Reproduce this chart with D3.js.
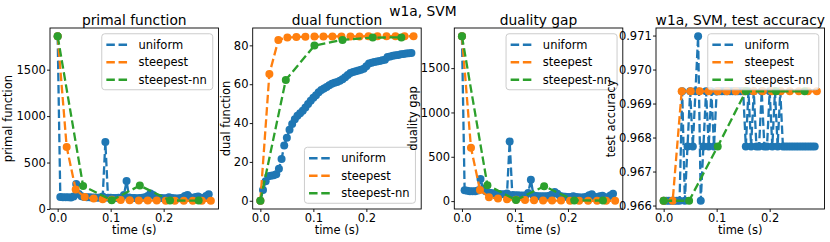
<!DOCTYPE html>
<html><head><meta charset="utf-8">
<script src="https://cdn.jsdelivr.net/npm/d3@7"></script>
<style>
body{margin:0;background:#fff}
svg{display:block}
text{font-family:"DejaVu Sans",sans-serif;fill:#000}
</style>
</head><body><svg id="c" width="830" height="242"></svg>
<script>
// ---------------- data ----------------
const seriesNames = ["uniform", "steepest", "steepest-nn"];
const seriesColors = ["#1f77b4", "#ff7f0e", "#2ca02c"];

const uniformTime = [0.000,0.005,0.010,0.015,0.020,0.025,0.030,0.035,0.040,0.045,
  0.050,0.055,0.060,0.065,0.070,0.075,0.080,0.085,0.090,0.095,
  0.100,0.105,0.110,0.115,0.120,0.125,0.130,0.135,0.140,0.145,
  0.150,0.155,0.160,0.165,0.170,0.175,0.180,0.185,0.190,0.195,
  0.200,0.205,0.210,0.215,0.220,0.225,0.230,0.235,0.240,0.245,
  0.250,0.255,0.260,0.265,0.270,0.275,0.280,0.285];
const uniformPrimal = [1860,128,126,125,125,124,135,268,160,138,
  130,127,125,124,123,122,124,135,722,121,
  120,119,118,120,122,150,300,123,118,117,
  116,118,120,125,140,168,150,125,120,117,
  115,116,125,118,115,114,116,122,140,150,
  125,118,130,135,120,118,140,158];
const uniformDual = [0,5.5,10,12.6,12.9,13.2,13.6,16.5,21.5,28.5,
  32.5,36.5,39.5,42,43.8,45,46.3,48,49.8,51.5,
  53,54.3,55.8,57,57.8,58.6,59.5,60.2,60.8,61.2,
  61.8,62.6,63.6,64.8,65.8,66.3,66.7,67.0,67.5,68.0,
  69.2,70.6,71.0,71.4,71.7,72.0,72.3,72.6,74.0,74.3,
  74.6,74.9,75.1,75.4,75.6,75.8,76.0,76.1];
const uniformGap = [1860,122,116,112,112,111,121,250,138,110,
  98,91,86,82,79,77,78,87,672,70,
  67,65,62,63,64,91,240,63,57,56,
  54,55,56,60,74,102,83,58,52,49,
  46,45,54,47,43,42,44,49,66,76,
  50,43,55,60,44,42,64,82];
const uniformAcc = [0.96614,0.96614,0.96614,0.96614,0.96614,0.96614,0.96614,0.96936,0.96614,0.96774,
  0.96936,0.96774,0.96936,0.97098,0.96614,0.96774,0.96936,0.96774,0.96936,0.96774,
  0.96936,0.96936,0.96936,0.96936,0.96936,0.96936,0.96936,0.96936,0.96936,0.96936,
  0.96936,0.96774,0.96936,0.96774,0.96936,0.96774,0.96774,0.96936,0.96774,0.96774,
  0.96936,0.96774,0.96936,0.96774,0.96936,0.96774,0.96774,0.96774,0.96774,0.96774,
  0.96774,0.96774,0.96774,0.96774,0.96774,0.96774,0.96774,0.96774];

const steepestTime = [0,0.017,0.034,0.051,0.068,0.085,0.102,0.119,0.136,0.153,
  0.170,0.187,0.204,0.221,0.238,0.255,0.272,0.289];
const steepestPrimal = [1860,668,210,128,112,104,99,96,94,92,91,90,89.5,89,88.8,88.6,88.5,88.4];
const steepestDual = [0,65.3,82.8,84.0,84.3,84.4,84.5,84.5,84.6,84.6,84.6,84.6,84.7,84.7,84.7,84.7,84.7,84.7];
const steepestGap = [1860,603,125,44,28,20,15,12,9.5,8,6.5,5.5,4.8,4.3,4.1,3.9,3.8,3.7];
const steepestAcc = [0.96614,0.96614,0.96936,0.96936,0.96936,0.96936,0.96936,0.96936,0.96936,
  0.96936,0.96936,0.96936,0.96936,0.96936,0.96936,0.96936,0.96936,0.96936];

const nnTime = [0,0.048,0.102,0.155,0.212,0.266];
const nnPrimal = [1860,248,94,252,92,90];
const nnDual = [0,62.2,79.9,82.8,84.0,84.1];
const nnGap = [1860,180,12,168,8,6];
const nnAcc = [0.96614,0.96614,0.96774,0.96936,0.96936,0.96936];

const suptitle = "w1a, SVM";
const panelTitles = ["primal function", "dual function", "duality gap", "w1a, SVM, test accuracy"];
const panelYLabels = ["primal function", "dual function", "duality gap", "test accuracy"];
const xLabel = "time (s)";
const xTicks = [0.0, 0.1, 0.2];
const yTicksPrimal = [0, 500, 1000, 1500];
const yTicksDual = [0, 20, 40, 60, 80];
const yTicksGap = [0, 500, 1000, 1500];
const yTicksAcc = [0.966, 0.967, 0.968, 0.969, 0.970, 0.971];

// ---------------- layout ----------------
const svg = d3.select("#c");
const W = 168.5, TOP = 28, BOT = 209;
const lefts = [50, 252.7, 454.3, 656];
const FS = 11.5, TFS = 13.8;
const LW = 2.3, DASH = "8.5,3.7", R = 4;

const times = [uniformTime, steepestTime, nnTime];
const panels = [
  {ys: [uniformPrimal, steepestPrimal, nnPrimal], ticks: yTicksPrimal, fmt: d3.format("d"), legend: "ur"},
  {ys: [uniformDual, steepestDual, nnDual], ticks: yTicksDual, fmt: d3.format("d"), legend: "lr"},
  {ys: [uniformGap, steepestGap, nnGap], ticks: yTicksGap, fmt: d3.format("d"), legend: "ur"},
  {ys: [uniformAcc, steepestAcc, nnAcc], ticks: yTicksAcc, fmt: d3.format(".3f"), legend: "ur"}
];

svg.append("text").attr("x", 423).attr("y", 16).attr("text-anchor", "middle")
  .attr("font-size", TFS).text(suptitle);

panels.forEach((p, i) => {
  const g = svg.append("g");
  const L = lefts[i], Rr = lefts[i] + W;
  const allT = [].concat(...times);
  const [t0, t1] = d3.extent(allT); const tp = (t1 - t0) * 0.05;
  const x = d3.scaleLinear().domain([t0 - tp, t1 + tp]).range([L, Rr]);
  const allY = [].concat(...p.ys);
  const [y0, y1] = d3.extent(allY); const yp = (y1 - y0) * 0.05;
  const y = d3.scaleLinear().domain([y0 - yp, y1 + yp]).range([BOT, TOP]);

  const clipId = "clip" + i;
  svg.append("clipPath").attr("id", clipId).append("rect")
    .attr("x", L).attr("y", TOP).attr("width", W).attr("height", BOT - TOP);
  const dg = g.append("g").attr("clip-path", `url(#${clipId})`);

  p.ys.forEach((ys, s) => {
    const pts = times[s].map((t, k) => [t, ys[k]]);
    const line = d3.line().x(d => x(d[0])).y(d => y(d[1]));
    dg.append("path").attr("d", line(pts)).attr("fill", "none")
      .attr("stroke", seriesColors[s]).attr("stroke-width", LW)
      .attr("stroke-dasharray", DASH);
    dg.append("g").selectAll("circle").data(pts).join("circle")
      .attr("cx", d => x(d[0])).attr("cy", d => y(d[1])).attr("r", R)
      .attr("fill", seriesColors[s]);
  });

  // frame
  g.append("rect").attr("x", L).attr("y", TOP).attr("width", W).attr("height", BOT - TOP)
    .attr("fill", "none").attr("stroke", "#000").attr("stroke-width", 0.9);

  // axes
  const xa = g.append("g").attr("transform", `translate(0,${BOT})`)
    .call(d3.axisBottom(x).tickValues(xTicks).tickSize(3).tickPadding(1.8).tickFormat(d3.format(".1f")));
  const ya = g.append("g").attr("transform", `translate(${L},0)`)
    .call(d3.axisLeft(y).tickValues(p.ticks).tickSize(3).tickPadding(1.2).tickFormat(p.fmt));
  [xa, ya].forEach(a => {
    a.select(".domain").remove();
    a.attr("font-size", FS).attr("font-family", "DejaVu Sans");
    a.selectAll("line").attr("stroke", "#000").attr("stroke-width", 0.9);
    a.selectAll("text").attr("fill", "#000");
  });

  // y label placed left of tick labels
  let minX = Infinity;
  ya.selectAll("text").each(function () {
    const b = this.getBBox(); minX = Math.min(minX, L + b.x);
  });
  const cy = (TOP + BOT) / 2;
  g.append("text").attr("transform", `translate(${minX - 4.3},${cy}) rotate(-90)`)
    .attr("text-anchor", "middle").attr("font-size", FS).text(panelYLabels[i]);

  g.append("text").attr("x", (L + Rr) / 2).attr("y", 234).attr("text-anchor", "middle")
    .attr("font-size", FS).text(xLabel);
  g.append("text").attr("x", (L + Rr) / 2).attr("y", 24.5).attr("text-anchor", "middle")
    .attr("font-size", TFS).text(panelTitles[i]);

  // legend
  const lw = 111, lh = 56;
  const lx = Rr - 5.75 - lw;
  const ly = p.legend === "ur" ? TOP + 5.75 : BOT - 5.75 - lh;
  const lg = g.append("g");
  lg.append("rect").attr("x", lx).attr("y", ly).attr("width", lw).attr("height", lh)
    .attr("rx", 3).attr("fill", "#fff").attr("fill-opacity", 0.8)
    .attr("stroke", "#cccccc").attr("stroke-width", 1);
  seriesNames.forEach((n, s) => {
    const ry = ly + 11 + s * 17.5;
    lg.append("line").attr("x1", lx + 4.6).attr("x2", lx + 27.6).attr("y1", ry).attr("y2", ry)
      .attr("stroke", seriesColors[s]).attr("stroke-width", LW).attr("stroke-dasharray", DASH);
    lg.append("text").attr("x", lx + 36.8).attr("y", ry + 4).attr("font-size", FS).text(n);
  });
});
</script>
</body></html>
